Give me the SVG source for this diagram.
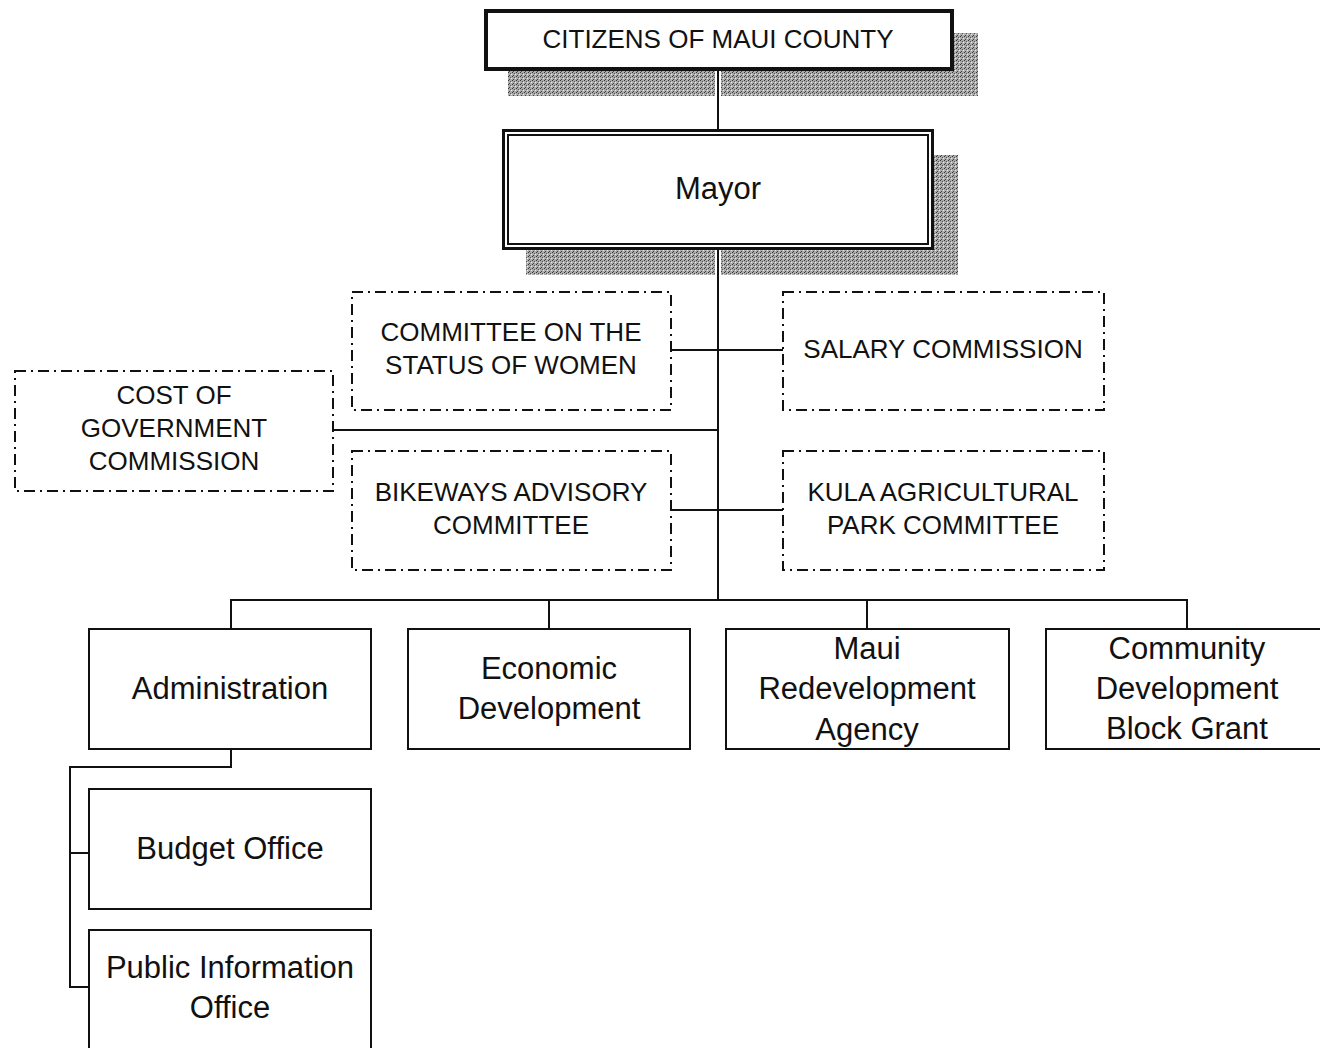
<svg xmlns="http://www.w3.org/2000/svg" width="1320" height="1048" viewBox="0 0 1320 1048">
<style>
  text { font-family: "Liberation Sans", Arial, sans-serif; fill: #111; text-anchor: middle; }
  .box { fill: #fff; stroke: #111; stroke-width: 2; }
  .dash { fill: #fff; stroke: #111; stroke-width: 2; stroke-dasharray: 11 5 2 5; }
  .ln { stroke: #111; stroke-width: 2; fill: none; }
  .shadow { fill: url(#stip); }
  .cap { font-size: 26px; }
  .big { font-size: 31px; }
</style>
<defs>
  <pattern id="stip" width="4" height="4" patternUnits="userSpaceOnUse">
    <rect width="4" height="4" fill="#ababab"/>
    <rect x="0" y="0" width="1" height="1" fill="#333"/>
    <rect x="2" y="1" width="1" height="1" fill="#555"/>
    <rect x="1" y="3" width="1" height="1" fill="#444"/>
    <rect x="3" y="2" width="1" height="1" fill="#eee"/>
  </pattern>
</defs>

<g id="shadows">
  <rect class="shadow" x="954" y="33" width="24" height="63"/>
  <rect class="shadow" x="508" y="71" width="470" height="25"/>
  <rect class="shadow" x="934" y="155" width="24" height="120"/>
  <rect class="shadow" x="526" y="250" width="432" height="25"/>
</g>

<g id="connectors">
  <line x1="718" y1="71" x2="718" y2="129" stroke="#fff" stroke-width="6"/>
  <line x1="718" y1="250" x2="718" y2="275" stroke="#fff" stroke-width="6"/>
  <line class="ln" x1="718" y1="71" x2="718" y2="129"/>
  <line class="ln" x1="718" y1="250" x2="718" y2="600" stroke-width="2.5"/>
  <line class="ln" x1="671" y1="350" x2="783" y2="350"/>
  <line class="ln" x1="333" y1="430" x2="718" y2="430"/>
  <line class="ln" x1="671" y1="510" x2="783" y2="510"/>
  <polyline class="ln" points="231,629 231,600 1187,600 1187,629"/>
  <line class="ln" x1="549" y1="600" x2="549" y2="629"/>
  <line class="ln" x1="867" y1="600" x2="867" y2="629"/>
  <polyline class="ln" points="231,749 231,767 70,767 70,987 89,987"/>
  <line class="ln" x1="70" y1="853" x2="89" y2="853"/>
</g>

<g id="citizens">
  <rect x="486" y="11" width="466" height="58" fill="#fff" stroke="#111" stroke-width="4"/>
  <text x="718" y="48" style="font-size:26px">CITIZENS OF MAUI COUNTY</text>
</g>

<g id="mayor">
  <rect x="503.5" y="130.5" width="429" height="118" fill="#fff" stroke="#111" stroke-width="3"/>
  <rect x="508" y="135" width="420" height="109" fill="none" stroke="#111" stroke-width="2"/>
  <text x="718" y="199" style="font-size:31px">Mayor</text>
</g>

<g id="status-women">
  <rect class="dash" x="352" y="292" width="319" height="118"/>
  <text class="cap" x="511" y="341">COMMITTEE ON THE</text>
  <text class="cap" x="511" y="374">STATUS OF WOMEN</text>
</g>

<g id="salary">
  <rect class="dash" x="783" y="292" width="321" height="118"/>
  <text class="cap" x="943" y="358">SALARY COMMISSION</text>
</g>

<g id="cost-gov">
  <rect class="dash" x="15" y="371" width="318" height="120"/>
  <text class="cap" x="174" y="404">COST OF</text>
  <text class="cap" x="174" y="437">GOVERNMENT</text>
  <text class="cap" x="174" y="470">COMMISSION</text>
</g>

<g id="bikeways">
  <rect class="dash" x="352" y="451" width="319" height="119"/>
  <text class="cap" x="511" y="501">BIKEWAYS ADVISORY</text>
  <text class="cap" x="511" y="534">COMMITTEE</text>
</g>

<g id="kula">
  <rect class="dash" x="783" y="451" width="321" height="119"/>
  <text class="cap" x="943" y="501">KULA AGRICULTURAL</text>
  <text class="cap" x="943" y="534">PARK COMMITTEE</text>
</g>

<g id="administration">
  <rect class="box" x="89" y="629" width="282" height="120"/>
  <text class="big" x="230" y="699">Administration</text>
</g>

<g id="economic">
  <rect class="box" x="408" y="629" width="282" height="120"/>
  <text class="big" x="549" y="679">Economic</text>
  <text class="big" x="549" y="719">Development</text>
</g>

<g id="maui-redev">
  <rect class="box" x="726" y="629" width="283" height="120"/>
  <text class="big" x="867" y="659">Maui</text>
  <text class="big" x="867" y="699">Redevelopment</text>
  <text class="big" x="867" y="740">Agency</text>
</g>

<g id="cdbg">
  <rect class="box" x="1046" y="629" width="290" height="120"/>
  <text class="big" x="1187" y="659">Community</text>
  <text class="big" x="1187" y="699">Development</text>
  <text class="big" x="1187" y="739">Block Grant</text>
</g>

<g id="budget">
  <rect class="box" x="89" y="789" width="282" height="120"/>
  <text class="big" x="230" y="859">Budget Office</text>
</g>

<g id="public-info">
  <rect class="box" x="89" y="930" width="282" height="130"/>
  <text class="big" x="230" y="978">Public Information</text>
  <text class="big" x="230" y="1018">Office</text>
</g>
</svg>
